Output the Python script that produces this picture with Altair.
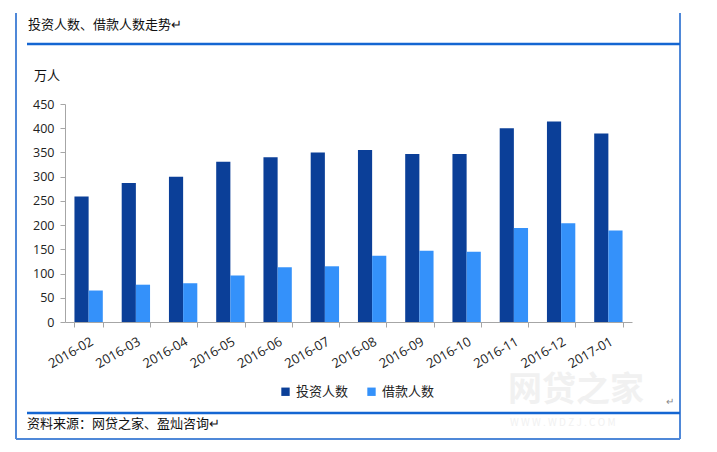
import altair as alt
import pandas as pd

months = ["2016-02", "2016-03", "2016-04", "2016-05", "2016-06", "2016-07",
          "2016-08", "2016-09", "2016-10", "2016-11", "2016-12", "2017-01"]
investors = [259, 287, 300, 331, 340, 350, 355, 347, 347, 400, 414, 389]
borrowers = [65, 77, 80, 96, 113, 115, 137, 147, 145, 194, 204, 189]
series = ["投资人数", "借款人数"]
colors = ["#0B3F98", "#3491FA"]

title_text = "投资人数、借款人数走势↵"
unit_text = "万人"
source_text = "资料来源：网贷之家、盈灿咨询↵"

FONT = "Noto Sans CJK SC"

rows = []
for m, a, b in zip(months, investors, borrowers):
    rows.append({"month": m, "series": series[0], "value": a})
    rows.append({"month": m, "series": series[1], "value": b})
df = pd.DataFrame(rows)

bars = alt.Chart(df).mark_bar().encode(
    x=alt.X("month:N", sort=months, title=None,
            scale=alt.Scale(paddingInner=0.4, paddingOuter=0.2),
            axis=alt.Axis(labelAngle=-30, labelFontSize=13, labelFont="Open Sans",
                          labelColor="#222", tickBand="extent", tickSize=5,
                          tickColor="#A6A6A6", domainColor="#A6A6A6",
                          labelPadding=8)),
    xOffset=alt.XOffset("series:N", sort=series,
                        scale=alt.Scale(paddingInner=0, paddingOuter=0)),
    y=alt.Y("value:Q", title=None,
            scale=alt.Scale(domain=[0, 450], nice=False),
            axis=alt.Axis(values=list(range(0, 451, 50)), grid=False,
                          labelFontSize=12.5, labelFont="Open Sans", labelColor="#222",
                          tickSize=5, tickColor="#A6A6A6", domainColor="#A6A6A6",
                          labelPadding=6)),
    color=alt.Color("series:N", sort=series,
                    scale=alt.Scale(domain=series, range=colors),
                    legend=alt.Legend(title=None, orient="none", direction="horizontal",
                                      legendX=214, legendY=281, symbolType="square",
                                      symbolSize=70, labelFontSize=13, labelFont=FONT,
                                      labelColor="#222", columnPadding=16,
                                      symbolStrokeWidth=0)),
)

def text_layer(txt, x, y, size=13, color="#111", align="left", weight="normal"):
    return alt.Chart(pd.DataFrame({"t": [txt]})).mark_text(
        align=align, baseline="middle", fontSize=size, font=FONT,
        color=color, fontWeight=weight
    ).encode(x=alt.value(x), y=alt.value(y), text="t:N")

def rule_layer(x, x2, y, y2, color, width):
    return alt.Chart(pd.DataFrame({"k": [0]})).mark_rule(
        color=color, strokeWidth=width
    ).encode(x=alt.value(x), x2=alt.value(x2), y=alt.value(y), y2=alt.value(y2))

frame = "#4F88D8"
line_blue = "#1466D2"

layers = [
    text_layer("网贷之家", 443, 287, size=34, color="#F1F1F1", weight="bold"),
    text_layer("W W W . W D Z J . C O M", 445, 319, size=10, color="#F1F1F1"),
    rule_layer(-49, -49, -91, 335, frame, 2),
    rule_layer(615, 615, -91, 335, frame, 2),
    rule_layer(-49, 615, 335, 335, frame, 2),
    rule_layer(-38, 615, -60, -60, line_blue, 2.5),
    rule_layer(-38, 615, 309, 309, line_blue, 2.5),
    text_layer(title_text, -37, -79, size=13),
    text_layer(unit_text, -31, -28, size=13),
    text_layer(source_text, -38, 320, size=13),
    text_layer("↵", 601, 298, size=10, color="#888"),
    bars,
]

chart = alt.layer(*layers).properties(
    width=567, height=218,
    autosize=alt.AutoSizeParams(type="none"),
    padding={"left": 57, "top": 96, "right": 77, "bottom": 118},
).configure_view(stroke=None)

chart.save("out.html", embed_options={"renderer": "svg", "actions": False})
